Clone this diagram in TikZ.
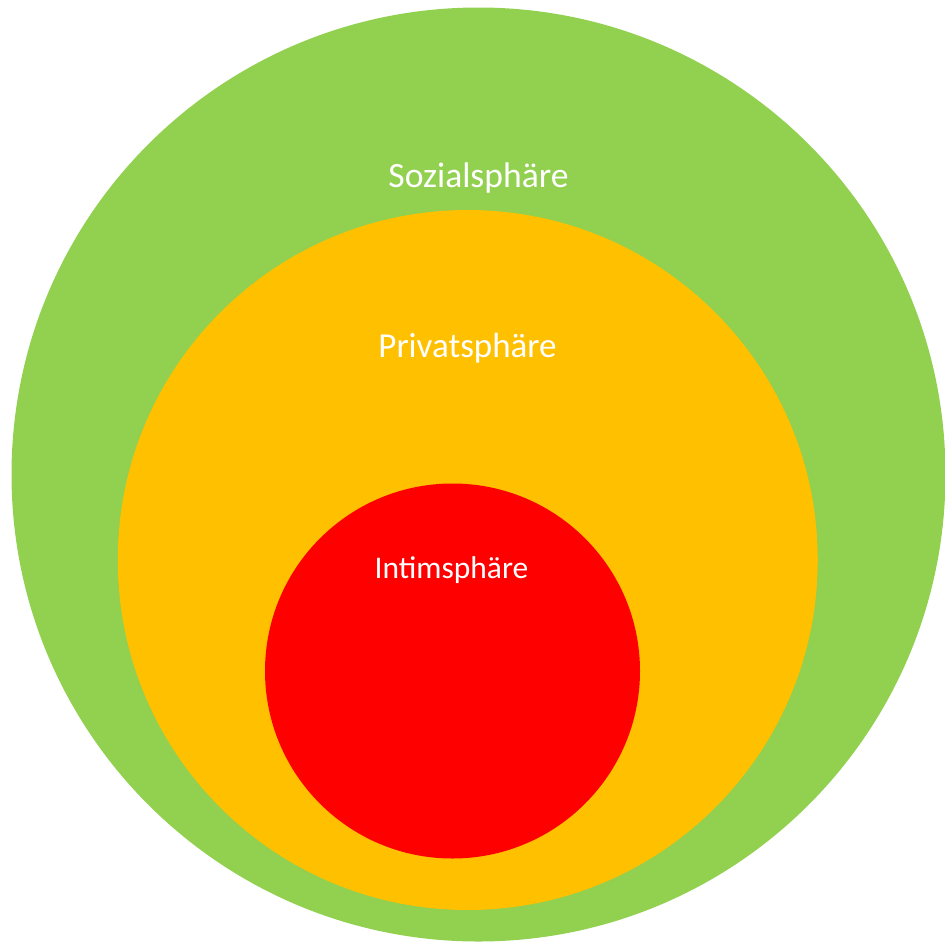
\documentclass[tikz,border=0pt]{standalone}
\usepackage{fontspec}
\setmainfont{Carlito}
\definecolor{sozgreen}{HTML}{92D050}
\definecolor{privorange}{HTML}{FFC000}
\definecolor{intred}{HTML}{FF0000}
\begin{document}
\begin{tikzpicture}[x=1pt,y=-1pt,
  sphere/.style={circle,draw=none,inner sep=0pt,outer sep=0pt},
  lbl/.style={text=white,anchor=base,inner sep=0pt}]
\useasboundingbox (0,0) rectangle (945,943);
\node[sphere,fill=sozgreen,minimum size=934pt] (soz) at (478.5,474.5) {};
\node[sphere,fill=privorange,minimum size=700pt] (priv) at (467.75,560) {};
\node[sphere,fill=intred,minimum size=375pt] (int) at (452.5,671) {};
\node[lbl,font=\fontsize{35.6pt}{40pt}\selectfont] (tsoz) at (478.5,187) {Sozialsphäre};
\node[lbl,font=\fontsize{35pt}{40pt}\selectfont] (tpriv) at (467.5,357) {Privatsphäre};
\node[lbl,font=\fontsize{31.5pt}{36pt}\selectfont] (tint) at (451.5,578) {Intimsphäre};
\end{tikzpicture}
\end{document}
